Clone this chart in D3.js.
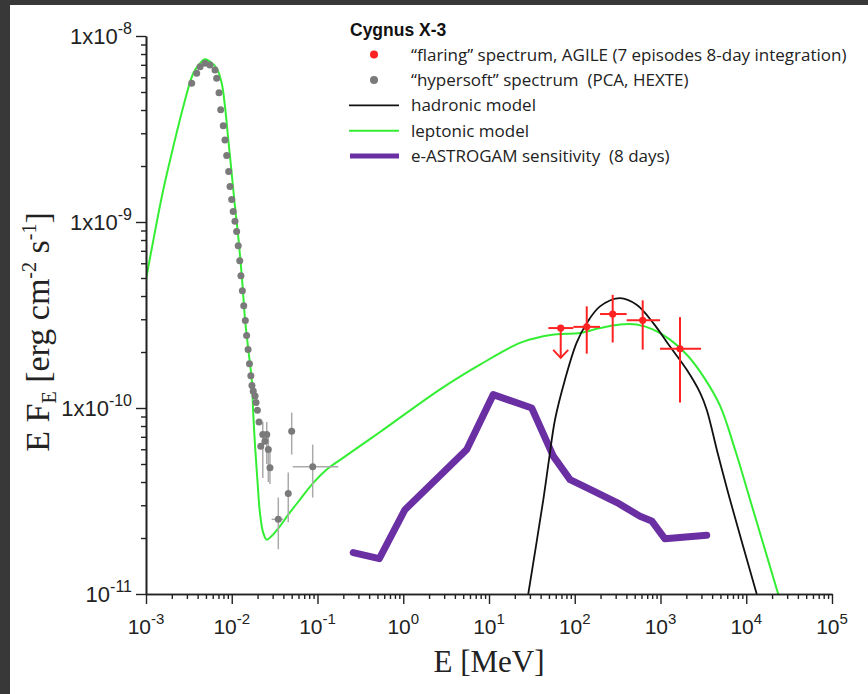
<!DOCTYPE html>
<html>
<head>
<meta charset="utf-8">
<script src="https://cdn.jsdelivr.net/npm/d3@7"></script>
<style>
  body { margin: 0; background: #fff; }
  svg { display: block; }
</style>
</head>
<body>
<svg width="868" height="694"></svg>
<script>
const svg = d3.select('svg');

// leptonic model (green)
const leptE = [0.001, 1.22e-3, 1.59e-3, 2.08e-3, 2.72e-3, 3.56e-3, 4.27e-3, 4.88e-3, 5.57e-3, 6.67e-3,
  7.64e-3, 8.34e-3, 9.12e-3, 9.98e-3, 1.09e-2, 1.19e-2, 1.32e-2, 1.43e-2, 1.56e-2, 1.71e-2,
  1.78e-2, 1.87e-2, 1.99e-2, 2.13e-2, 2.33e-2, 2.56e-2, 2.92e-2, 3.66e-2, 4.56e-2, 6.25e-2,
  8.93e-2, 0.128, 0.175, 0.536, 2.69, 7.85, 23.0, 39.4, 67.3, 115,
  197, 337, 527, 824, 1291, 2018, 3155, 4943, 7396, 11066, 23660];
const leptF = [4.90e-10, 8.02e-10, 1.49e-9, 2.54e-9, 4.17e-9, 6.31e-9, 7.13e-9, 7.50e-9, 7.28e-9, 6.71e-9,
  5.57e-9, 4.17e-9, 2.76e-9, 1.83e-9, 1.21e-9, 8.36e-10, 4.90e-10, 2.99e-10, 2.06e-10, 1.42e-10,
  9.42e-11, 6.22e-11, 4.12e-11, 2.74e-11, 2.13e-11, 1.96e-11, 2.05e-11, 2.32e-11, 2.67e-11, 3.22e-11,
  3.96e-11, 4.67e-11, 5.18e-11, 7.43e-11, 1.26e-10, 1.71e-10, 2.24e-10, 2.41e-10, 2.50e-10, 2.53e-10,
  2.69e-10, 2.81e-10, 2.81e-10, 2.64e-10, 2.33e-10, 1.94e-10, 1.48e-10, 1.03e-10, 5.98e-11, 3.22e-11, 9.95e-12];

// hadronic model (black)
const hadE = [28.7, 43.0, 50.1, 58.9, 76.9, 105, 138, 197, 337, 527, 824, 1291, 2018, 2891, 3459, 4688, 6457, 13243];
const hadF = [1.0e-11, 3.22e-11, 5.28e-11, 8.67e-11, 1.42e-10, 2.24e-10, 2.86e-10, 3.52e-10, 3.90e-10, 3.59e-10,
  2.86e-10, 2.14e-10, 1.61e-10, 1.21e-10, 9.79e-11, 5.62e-11, 3.22e-11, 1.0e-11];

// e-ASTROGAM sensitivity (8 days)
const sensE = [0.261, 0.526, 1.047, 5.50, 11.2, 31.5, 56.2, 88.1, 151, 311, 577, 789, 1127, 3459];
const sensF = [1.67e-11, 1.55e-11, 2.84e-11, 5.98e-11, 1.18e-10, 1.00e-10, 5.51e-11, 4.12e-11, 3.65e-11,
  3.10e-11, 2.62e-11, 2.47e-11, 1.98e-11, 2.07e-11];

// "hypersoft" spectrum (PCA, HEXTE)
const softE = [3.41e-3, 3.90e-3, 4.27e-3, 4.88e-3, 5.57e-3, 6.38e-3, 6.67e-3, 7.10e-3, 7.43e-3, 7.96e-3,
  8.34e-3, 8.73e-3, 9.21e-3, 9.55e-3, 9.98e-3, 1.04e-2, 1.09e-2, 1.14e-2, 1.19e-2, 1.24e-2,
  1.28e-2, 1.33e-2, 1.38e-2, 1.44e-2, 1.49e-2, 1.55e-2, 1.61e-2, 1.67e-2, 1.72e-2, 1.78e-2,
  1.87e-2, 1.92e-2, 1.99e-2, 2.08e-2, 2.44e-2, 2.18e-2];
const softF = [5.57e-9, 6.30e-9, 6.84e-9, 7.14e-9, 6.98e-9, 6.57e-9, 5.93e-9, 4.96e-9, 4.01e-9, 3.29e-9,
  2.76e-9, 2.28e-9, 1.87e-9, 1.55e-9, 1.32e-9, 1.14e-9, 1.01e-9, 8.89e-10, 7.45e-10, 6.19e-10,
  5.14e-10, 4.27e-10, 3.55e-10, 2.95e-10, 2.45e-10, 2.06e-10, 1.73e-10, 1.49e-10, 1.32e-10, 1.23e-10,
  1.16e-10, 1.07e-10, 9.72e-11, 8.42e-11, 6.62e-11, 6.22e-11];
// hypersoft points with error bars
const softErrE = [2.30e-2, 2.56e-2, 2.67e-2, 2.79e-2, 5.00e-2, 8.79e-2, 4.56e-2, 3.49e-2];
const softErrF = [7.20e-11, 7.20e-11, 5.98e-11, 4.77e-11, 7.50e-11, 4.83e-11, 3.47e-11, 2.52e-11];
const softErrFLo = [4.2e-11, 5.0e-11, 4.0e-11, 3.9e-11, 5.62e-11, 3.30e-11, 2.43e-11, 1.74e-11];
const softErrFHi = [8.4e-11, 8.4e-11, 7.0e-11, 5.8e-11, 9.45e-11, 6.36e-11, 4.50e-11, 3.30e-11];
const softErrELo = [null, null, null, null, null, 5.14e-2, null, 2.92e-2];
const softErrEHi = [null, null, null, null, null, 0.175, null, 3.99e-2];

// "flaring" spectrum, AGILE
const agileE = [68.6, 138, 277, 620, 1688];
const agileF = [2.69e-10, 2.73e-10, 3.20e-10, 2.96e-10, 2.08e-10];
const agileELo = [49.2, 96.2, 197, 403, 986];
const agileEHi = [96.2, 197, 403, 986, 2966];
const agileFLo = [1.86e-10, 1.96e-10, 2.25e-10, 2.06e-10, 1.07e-10];
const agileFHi = [null, 3.52e-10, 4.06e-10, 3.79e-10, 3.08e-10];
const agileUL = [true, false, false, false, false];

const xTicks = [1e-3, 1e-2, 1e-1, 1, 1e1, 1e2, 1e3, 1e4, 1e5];
const yTicks = [1e-11, 1e-10, 1e-9, 1e-8];
const yTickMant = ['10', '1x10', '1x10', '1x10'];

const legendItems = [
  '\u201cflaring\u201d spectrum, AGILE (7 episodes 8-day integration)',
  '\u201chypersoft\u201d spectrum  (PCA, HEXTE)',
  'hadronic model',
  'leptonic model',
  'e-ASTROGAM sensitivity  (8 days)',
];

const x = d3.scaleLog().domain([1e-3, 1e5]).range([146, 832]);
const y = d3.scaleLog().domain([1e-11, 1e-8]).range([594, 36]);

function minors(lo, hi) {
  const out = [];
  for (let e = lo; e < hi; e++) {
    for (let m = 2; m <= 9; m++) out.push(m * Math.pow(10, e));
  }
  return out;
}

// dark frame of the screenshot
svg.append('rect').attr('x', 0).attr('y', 0).attr('width', 868).attr('height', 5).attr('fill', '#383838');
svg.append('rect').attr('x', 0).attr('y', 0).attr('width', 10).attr('height', 694).attr('fill', '#383838');

svg.append('clipPath').attr('id', 'plot')
  .append('rect').attr('x', 146).attr('y', 36).attr('width', 686).attr('height', 558);

const plot = svg.append('g').attr('clip-path', 'url(#plot)');

const line = (xs, ys) => d3.line()
  .x(i => x(xs[i]))
  .y(i => y(ys[i]))
  .curve(d3.curveCatmullRom.alpha(0.5))(d3.range(xs.length));

// sensitivity
plot.append('path')
  .attr('d', d3.line().x(i => x(sensE[i])).y(i => y(sensF[i]))(d3.range(sensE.length)))
  .attr('fill', 'none')
  .attr('stroke', '#6a2fa3')
  .attr('stroke-width', 7)
  .attr('stroke-linejoin', 'round')
  .attr('stroke-linecap', 'round');

// leptonic
plot.append('path')
  .attr('d', line(leptE, leptF))
  .attr('fill', 'none')
  .attr('stroke', '#33ee33')
  .attr('stroke-width', 2);

// hadronic
plot.append('path')
  .attr('d', line(hadE, hadF))
  .attr('fill', 'none')
  .attr('stroke', '#111')
  .attr('stroke-width', 1.8);

// hypersoft error bars
const gErr = plot.append('g').attr('stroke', '#aaa').attr('stroke-width', 1.5);
softErrE.forEach((e, i) => {
  gErr.append('line')
    .attr('x1', x(e)).attr('x2', x(e))
    .attr('y1', y(softErrFLo[i])).attr('y2', y(softErrFHi[i]));
  if (softErrELo[i] !== null) {
    gErr.append('line')
      .attr('x1', x(softErrELo[i])).attr('x2', x(softErrEHi[i]))
      .attr('y1', y(softErrF[i])).attr('y2', y(softErrF[i]));
  }
});

plot.append('g').selectAll('circle')
  .data(d3.range(softE.length))
  .enter()
  .append('circle')
  .attr('cx', i => x(softE[i]))
  .attr('cy', i => y(softF[i]))
  .attr('r', 3.5)
  .attr('fill', '#7a7a7a');

plot.append('g').selectAll('circle')
  .data(d3.range(softErrE.length))
  .enter()
  .append('circle')
  .attr('cx', i => x(softErrE[i]))
  .attr('cy', i => y(softErrF[i]))
  .attr('r', 3.5)
  .attr('fill', '#7a7a7a');

// AGILE flaring points
const gRed = plot.append('g').attr('stroke', '#ff2222').attr('stroke-width', 2).attr('fill', 'none');
agileE.forEach((e, i) => {
  gRed.append('line')
    .attr('x1', x(agileELo[i])).attr('x2', x(agileEHi[i]))
    .attr('y1', y(agileF[i])).attr('y2', y(agileF[i]));
  const top = agileUL[i] ? agileF[i] : agileFHi[i];
  gRed.append('line')
    .attr('x1', x(e)).attr('x2', x(e))
    .attr('y1', y(top)).attr('y2', y(agileFLo[i]));
  if (agileUL[i]) {
    const ax = x(e), ay = y(agileFLo[i]);
    gRed.append('path').attr('d', `M${ax - 7.5},${ay - 8}L${ax},${ay}L${ax + 7.5},${ay - 8}`);
  }
});
plot.append('g').selectAll('circle')
  .data(agileE)
  .enter()
  .append('circle')
  .attr('cx', d => x(d))
  .attr('cy', (d, i) => y(agileF[i]))
  .attr('r', 3.6)
  .attr('fill', '#ff2222');

// axes
const axisColor = '#222';
const gx = svg.append('g').attr('transform', 'translate(0,594)');
gx.call(d3.axisBottom(x).tickValues(minors(-3, 5)).tickSize(5).tickSizeOuter(0).tickFormat(''));
gx.call(g => g.append('g').call(d3.axisBottom(x).tickValues(xTicks).tickSize(10).tickSizeOuter(0).tickFormat('')));
const gy = svg.append('g').attr('transform', 'translate(146,0)');
gy.call(d3.axisLeft(y).tickValues(minors(-11, -8)).tickSize(5).tickSizeOuter(0).tickFormat(''));
gy.call(g => g.append('g').call(d3.axisLeft(y).tickValues(yTicks).tickSize(10).tickSizeOuter(0).tickFormat('')));
svg.selectAll('.domain').attr('stroke', axisColor).attr('stroke-width', 1.6);
svg.selectAll('.tick line').attr('stroke', axisColor).attr('stroke-width', 1.4);

const tickFont = '"Liberation Sans", Arial, sans-serif';
xTicks.forEach(v => {
  const t = svg.append('text')
    .attr('x', x(v))
    .attr('y', 634)
    .attr('text-anchor', 'middle')
    .attr('font-family', tickFont)
    .attr('fill', '#222');
  t.append('tspan').attr('font-size', 21).text('10');
  t.append('tspan').attr('font-size', 15).attr('dy', -10).text(String(Math.round(Math.log10(v))));
});
yTicks.forEach((v, i) => {
  const t = svg.append('text')
    .attr('x', 132)
    .attr('y', y(v) + 8)
    .attr('text-anchor', 'end')
    .attr('font-family', tickFont)
    .attr('fill', '#222');
  t.append('tspan').attr('font-size', 22).text(yTickMant[i]);
  t.append('tspan').attr('font-size', 16).attr('dy', -10).text(String(Math.round(Math.log10(v))));
});

// axis titles
const serif = '"Liberation Serif", "Times New Roman", serif';
svg.append('text')
  .attr('x', 489)
  .attr('y', 672)
  .attr('text-anchor', 'middle')
  .attr('font-family', serif)
  .attr('font-size', 31)
  .attr('fill', '#222')
  .text('E [MeV]');

const yt = svg.append('text')
  .attr('transform', 'translate(49,332) rotate(-90)')
  .attr('text-anchor', 'middle')
  .attr('font-family', serif)
  .attr('font-size', 34)
  .attr('fill', '#222')
  .attr('xml:space', 'preserve');
yt.append('tspan').text('E F');
yt.append('tspan').attr('font-size', 20).attr('dy', 7).text('E');
yt.append('tspan').attr('dy', -7).text(' [erg cm');
yt.append('tspan').attr('font-size', 20).attr('dy', -13).text('-2');
yt.append('tspan').attr('dy', 13).text(' s');
yt.append('tspan').attr('font-size', 20).attr('dy', -13).text('-1');
yt.append('tspan').attr('dy', 13).text(']');

// legend
const legFont = '"Open Sans", "Noto Sans", sans-serif';
svg.append('text')
  .attr('x', 350)
  .attr('y', 36)
  .attr('font-family', '"Liberation Sans", Arial, sans-serif')
  .attr('font-weight', 'bold')
  .attr('font-size', 17.5)
  .attr('fill', '#111')
  .text('Cygnus X-3');

const rowY = i => 54.5 + i * 25.4;
const leg = svg.append('g');
leg.append('circle').attr('cx', 374).attr('cy', rowY(0)).attr('r', 4).attr('fill', '#ff2222');
leg.append('circle').attr('cx', 374).attr('cy', rowY(1)).attr('r', 4).attr('fill', '#7a7a7a');
leg.append('line').attr('x1', 349).attr('x2', 399).attr('y1', rowY(2)).attr('y2', rowY(2))
  .attr('stroke', '#111').attr('stroke-width', 1.8);
leg.append('line').attr('x1', 349).attr('x2', 399).attr('y1', rowY(3)).attr('y2', rowY(3))
  .attr('stroke', '#33ee33').attr('stroke-width', 2);
leg.append('line').attr('x1', 350).attr('x2', 399).attr('y1', rowY(4)).attr('y2', rowY(4))
  .attr('stroke', '#6a2fa3').attr('stroke-width', 5);

leg.selectAll('text')
  .data(legendItems)
  .enter()
  .append('text')
  .attr('x', 411)
  .attr('y', (d, i) => rowY(i) + 6)
  .attr('font-family', legFont)
  .attr('font-size', 17)
  .attr('fill', '#222')
  .attr('xml:space', 'preserve')
  .text(d => d);
</script>
</body>
</html>
